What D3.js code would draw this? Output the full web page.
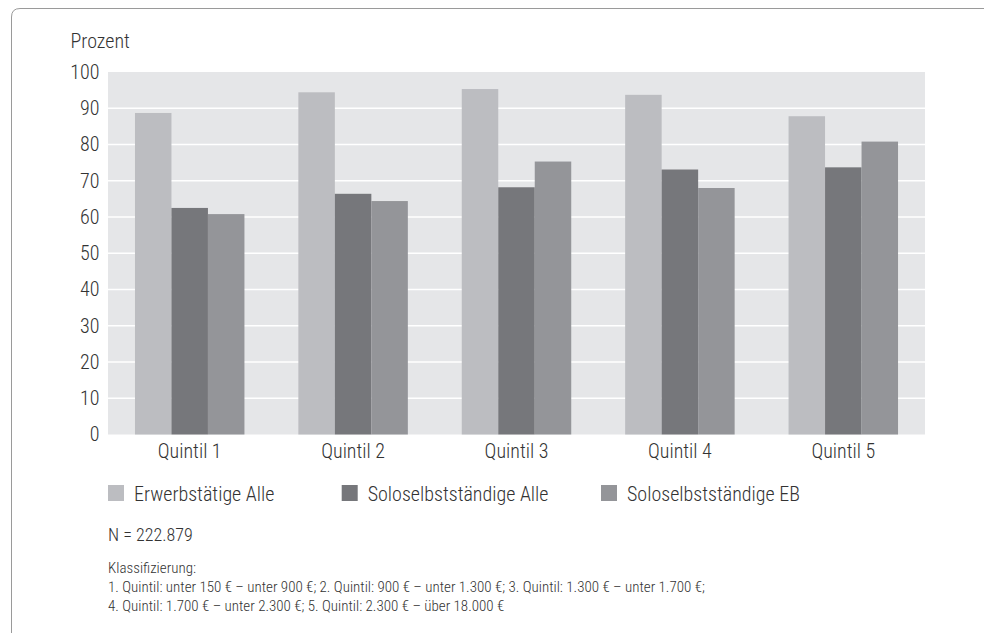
<!DOCTYPE html>
<html>
<head>
<meta charset="utf-8">
<script src="https://cdn.jsdelivr.net/npm/d3@7"></script>
<style>
  html, body { margin: 0; padding: 0; background: #ffffff; }
  svg { display: block; }
  text { font-family: "Liberation Sans Narrow", "Roboto Condensed", "DejaVu Sans Condensed", "Liberation Sans", sans-serif; font-weight: 300; fill: #333333; }
</style>
</head>
<body>
<svg id="chart" width="984" height="633"></svg>
<script>
const categories = ["Quintil 1", "Quintil 2", "Quintil 3", "Quintil 4", "Quintil 5"];
const seriesNames = ["Erwerbstätige Alle", "Soloselbstständige Alle", "Soloselbstständige EB"];
const erwerbstaetigeAlle = [88.7, 94.4, 95.3, 93.7, 87.8];
const soloAlle = [62.5, 66.4, 68.2, 73.1, 73.7];
const soloEB = [60.8, 64.4, 75.3, 68.0, 80.8];
const yTicks = [0, 10, 20, 30, 40, 50, 60, 70, 80, 90, 100];
const yLabel = "Prozent";
const noteN = "N = 222.879";
const noteLines = [
  "Klassifizierung:",
  "1. Quintil: unter 150 € – unter 900 €; 2. Quintil: 900 € – unter 1.300 €; 3. Quintil: 1.300 € – unter 1.700 €;",
  "4. Quintil: 1.700 € – unter 2.300 €; 5. Quintil: 2.300 € – über 18.000 €"
];
const colors = ["#bcbdc1", "#76777b", "#949599"];

const seriesValues = [erwerbstaetigeAlle, soloAlle, soloEB];

const svg = d3.select("#chart");

// frame
svg.append("path")
  .attr("d", "M11.5,633 L11.5,17 Q11.5,8.5 20,8.5 L984,8.5")
  .attr("fill", "none").attr("stroke", "#9a9a9a").attr("stroke-width", 1);

const plot = { left: 108, right: 925, top: 72, bottom: 434.5 };

const x0 = d3.scaleBand().domain(categories).range([plot.left, plot.right]).padding(0);
const x1 = d3.scaleBand().domain(d3.range(seriesNames.length))
  .range([x0.bandwidth() * 0.165, x0.bandwidth() * 0.835]).padding(0);
const y = d3.scaleLinear().domain([0, 100]).range([plot.bottom, plot.top]);

// plot background
svg.append("rect")
  .attr("x", plot.left).attr("y", plot.top)
  .attr("width", plot.right - plot.left).attr("height", plot.bottom - plot.top)
  .attr("fill", "#e5e6e8");

// gridlines
svg.append("g").selectAll("line")
  .data(yTicks.filter(t => t > 0 && t < 100))
  .join("line")
  .attr("x1", plot.left).attr("x2", plot.right)
  .attr("y1", d => y(d)).attr("y2", d => y(d))
  .attr("stroke", "#ffffff").attr("stroke-width", 1.5);

// bars
const groups = svg.append("g").selectAll("g")
  .data(categories)
  .join("g")
  .attr("transform", d => `translate(${x0(d)},0)`);

groups.selectAll("rect")
  .data((d, i) => seriesValues.map((vals, s) => ({ s, v: vals[i] })))
  .join("rect")
  .attr("x", d => x1(d.s))
  .attr("width", x1.bandwidth())
  .attr("y", d => y(d.v))
  .attr("height", d => y(0) - y(d.v))
  .attr("fill", d => colors[d.s]);

// y axis
const yAxis = d3.axisLeft(y).tickValues(yTicks).tickSize(0).tickPadding(8.5);
const yg = svg.append("g").attr("transform", `translate(${plot.left},0)`).call(yAxis);
yg.select(".domain").remove();
yg.selectAll("text").attr("font-size", 20);

// x axis
const xAxis = d3.axisBottom(x0).tickSize(0).tickPadding(9);
const xg = svg.append("g").attr("transform", `translate(0,${plot.bottom})`).call(xAxis);
xg.select(".domain").remove();
xg.selectAll("text").attr("font-size", 20);

svg.selectAll(".tick text").attr("font-family", null).attr("fill", null);

// y label
svg.append("text").attr("x", 70.5).attr("y", 47.5).attr("font-size", 20).text(yLabel);

// legend
const legendX = [108, 341.7, 601];
const lg = svg.append("g").selectAll("g").data(seriesNames).join("g")
  .attr("transform", (d, i) => `translate(${legendX[i]},485)`);
lg.append("rect").attr("width", 16).attr("height", 16).attr("fill", (d, i) => colors[i]);
lg.append("text").attr("x", 26).attr("y", 16).attr("font-size", 20).text(d => d);

// notes
svg.append("text").attr("x", 108).attr("y", 541).attr("font-size", 18).text(noteN);
svg.append("g").selectAll("text").data(noteLines).join("text")
  .attr("x", 108).attr("y", (d, i) => 573 + i * 18.8)
  .attr("font-size", 15).text(d => d);
</script>
</body>
</html>
